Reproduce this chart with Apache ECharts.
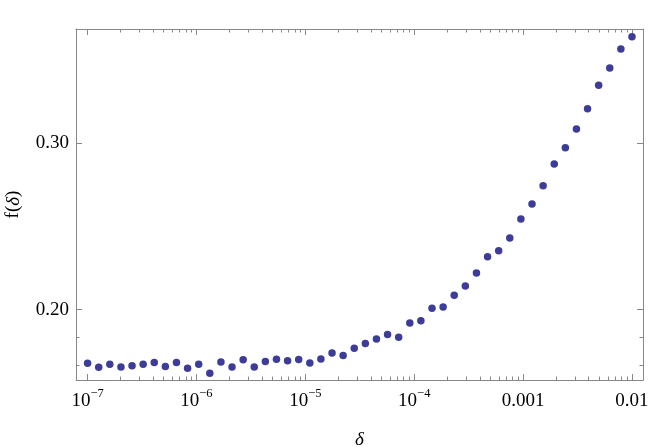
<!DOCTYPE html>
<html>
<head>
<meta charset="utf-8">
<script src="https://cdn.jsdelivr.net/npm/echarts@6/dist/echarts.min.js"></script>
<style>html,body{margin:0;padding:0;background:#fff}#c{width:654px;height:447px}</style>
</head>
<body>
<div id="c"></div>
<script>
// ---- data ----
const deltaValues = [1.000e-7, 1.265e-7, 1.600e-7, 2.024e-7, 2.560e-7, 3.237e-7, 4.095e-7, 5.179e-7, 6.551e-7, 8.286e-7,
  1.048e-6, 1.326e-6, 1.677e-6, 2.121e-6, 2.683e-6, 3.393e-6, 4.292e-6, 5.429e-6, 6.867e-6, 8.685e-6,
  1.099e-5, 1.389e-5, 1.758e-5, 2.223e-5, 2.812e-5, 3.556e-5, 4.498e-5, 5.690e-5, 7.197e-5, 9.103e-5,
  1.151e-4, 1.456e-4, 1.842e-4, 2.330e-4, 2.947e-4, 3.728e-4, 4.715e-4, 5.964e-4, 7.543e-4, 9.541e-4,
  1.207e-3, 1.526e-3, 1.931e-3, 2.442e-3, 3.089e-3, 3.907e-3, 4.942e-3, 6.251e-3, 7.906e-3, 1.000e-2];
const fValues = [0.1678, 0.1654, 0.1672, 0.1656, 0.1664, 0.1672, 0.1683, 0.1659, 0.1683, 0.1649,
  0.1673, 0.1619, 0.1686, 0.1656, 0.1699, 0.1656, 0.1689, 0.1703, 0.1693, 0.1701,
  0.1680, 0.1704, 0.1740, 0.1725, 0.1769, 0.1797, 0.1824, 0.1851, 0.1834, 0.1920,
  0.1933, 0.2008, 0.2016, 0.2086, 0.2142, 0.2220, 0.2318, 0.2354, 0.2430, 0.2544,
  0.2634, 0.2744, 0.2874, 0.2972, 0.3084, 0.3206, 0.3346, 0.3450, 0.3564, 0.3638];
const xMajorTicks = [1e-7, 1e-6, 1e-5, 1e-4, 1e-3, 1e-2];
const xTickLabels = ['10^-7', '10^-6', '10^-5', '10^-4', '0.001', '0.01'];
const yMajorTicks = [0.20, 0.30];
const yTickLabels = ['0.20', '0.30'];
const yMinorTicks = [0.1667, 0.1833];
const xRange = [7.826e-8, 1.262e-2];
const yRange = [0.1578, 0.3684];

// minor ticks of log axis: 2..9 x 10^k between the major decades
const xMinorTicks = [];
for (let i = 0; i < xMajorTicks.length - 1; i++) {
  for (let k = 2; k <= 9; k++) xMinorTicks.push(k * xMajorTicks[i]);
}

const FONT = 'Liberation Serif';
const frameColor = '#888888';
const pointColor = '#3d3d99';

function idxOf(arr, v) {
  let best = 0, bd = Infinity;
  arr.forEach((a, i) => { const d = Math.abs(Math.log(a) - Math.log(v)); if (d < bd) { bd = d; best = i; } });
  return best;
}
function xLabel(v) {
  const s = xTickLabels[idxOf(xMajorTicks, v)];
  if (s.indexOf('^') >= 0) {
    const p = s.split('^');
    return '{b|' + p[0] + '}{s|' + p[1].replace('-', '\u2212') + '}';
  }
  return '{b|' + s + '}';
}

function xAxisDef(pos, ticks, len, showLine, showLabel) {
  return {
    type: 'log', logBase: 10, position: pos, min: xRange[0], max: xRange[1],
    axisLine: { show: showLine, lineStyle: { color: frameColor, width: 1 } },
    axisTick: { show: true, inside: true, length: len, customValues: ticks, lineStyle: { color: frameColor, width: 1 } },
    axisLabel: showLabel ? {
      show: true, customValues: xMajorTicks, margin: 7, formatter: xLabel,
      rich: {
        b: { fontFamily: FONT, fontSize: 19, color: '#000', lineHeight: 24, verticalAlign: 'bottom' },
        s: { fontFamily: FONT, fontSize: 12.5, color: '#000', lineHeight: 14, verticalAlign: 'top' }
      }
    } : { show: false },
    splitLine: { show: false }, minorTick: { show: false }
  };
}
function yAxisDef(pos, ticks, len, showLine, showLabel) {
  return {
    type: 'value', position: pos, min: yRange[0], max: yRange[1],
    axisLine: { show: showLine, lineStyle: { color: frameColor, width: 1 } },
    axisTick: { show: true, inside: true, length: len, customValues: ticks, lineStyle: { color: frameColor, width: 1 } },
    axisLabel: showLabel ? {
      show: true, customValues: yMajorTicks, margin: 7,
      fontFamily: FONT, fontSize: 19, color: '#000',
      formatter: v => yTickLabels[yMajorTicks.findIndex(t => Math.abs(t - v) < 1e-6)]
    } : { show: false },
    splitLine: { show: false }
  };
}

const xAxes = [
  xAxisDef('bottom', xMajorTicks, 6, true, true),
  xAxisDef('bottom', xMinorTicks, 3.5, false, false),
  xAxisDef('top', xMajorTicks, 6, true, false),
  xAxisDef('top', xMinorTicks, 3.5, false, false)
];
xAxes[0].name = 'δ';
xAxes[0].nameLocation = 'middle';
xAxes[0].nameGap = 50;
xAxes[0].nameTextStyle = { fontFamily: FONT, fontSize: 19, fontStyle: 'italic', color: '#000' };

const yAxes = [
  yAxisDef('left', yMajorTicks, 6, true, true),
  yAxisDef('left', yMinorTicks, 3.5, false, false),
  yAxisDef('right', yMajorTicks, 6, true, false),
  yAxisDef('right', yMinorTicks, 3.5, false, false)
];
yAxes[0].name = '{n|f(}{i|δ}{n|)}';
yAxes[0].nameLocation = 'middle';
yAxes[0].nameRotate = 90;
yAxes[0].nameGap = 53;
yAxes[0].nameTextStyle = {
  color: '#000',
  rich: {
    n: { fontFamily: FONT, fontSize: 19, color: '#000' },
    i: { fontFamily: FONT, fontSize: 19, fontStyle: 'italic', color: '#000' }
  }
};

const chart = echarts.init(document.getElementById('c'), null, { renderer: 'canvas' });
chart.setOption({
  animation: false,
  backgroundColor: '#fff',
  grid: { left: 76, right: 11, top: 29, bottom: 67, containLabel: false, outerBoundsMode: 'none' },
  xAxis: xAxes,
  yAxis: yAxes,
  series: [{
    type: 'scatter',
    xAxisIndex: 0, yAxisIndex: 0,
    symbol: 'circle', symbolSize: 7.5,
    itemStyle: { color: pointColor, opacity: 1 },
    data: deltaValues.map((d, i) => [d, fValues[i]])
  }]
});
</script>
</body>
</html>
